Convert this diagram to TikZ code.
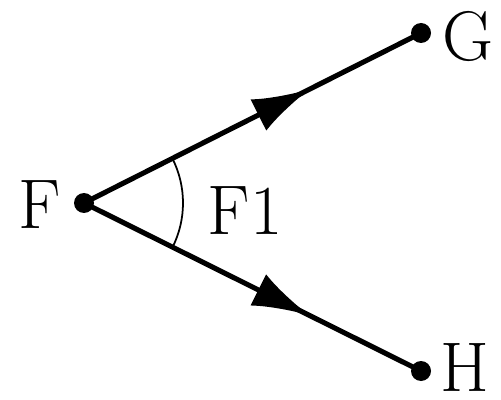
\documentclass[tikz,border=0pt]{standalone}
\usepackage{tikz}
\usetikzlibrary{arrows.meta, positioning, calc, decorations.markings}

\tikzset{
  ray/.style={line width=2.9pt, postaction={decorate},
    decoration={markings, mark=at position 0.67 with {\arrow{Latex[length=1.15cm,width=0.7cm]}}}},
  pt/.style={circle, fill=black, inner sep=0pt, minimum size=0.4cm},
  lbl/.style={font=\fontsize{40}{48}\selectfont, inner sep=0pt}
}

\begin{document}
\begin{tikzpicture}
  \useasboundingbox (0,0) rectangle (10.02,-8);
  % the three points
  \node[pt] (F) at (1.68,-4.06) {};
  \node[pt] (G) at (8.42,-0.66) {};
  \node[pt] (H) at (8.42,-7.42) {};
  % the two rays
  \draw[ray] (F.center) -- (G.center);
  \draw[ray] (F.center) -- (H.center);
  % the angle between them
  \draw[line width=1pt] ($(F.center)+(-26.8:1.98)$) arc[start angle=-26.8, end angle=26.8, radius=1.98];
  % labels
  \node[lbl] (lF) at (0.8,-4.1) {F};
  \node[lbl] (lF1) at (4.9,-4.22) {F1};
  \node[lbl] (lG) at (9.36,-0.72) {G};
  \node[lbl] (lH) at (9.3,-7.34) {H};
\end{tikzpicture}
\end{document}
